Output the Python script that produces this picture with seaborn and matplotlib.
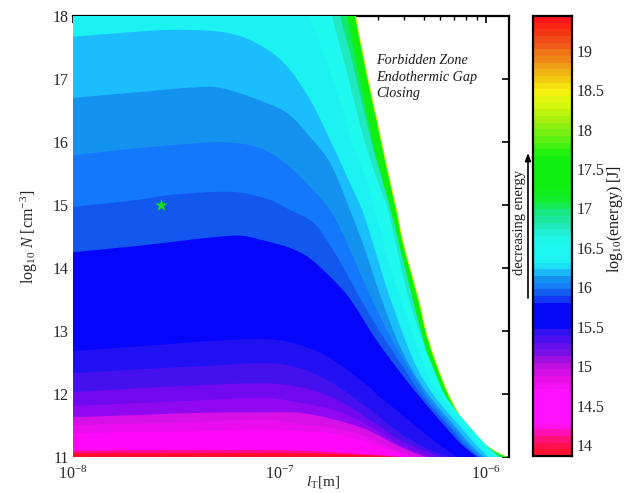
import numpy as np
import pandas as pd
import seaborn as sns
import matplotlib.pyplot as plt
from matplotlib.colors import LinearSegmentedColormap
from matplotlib.patches import PathPatch
from matplotlib.path import Path
from matplotlib.ticker import LogLocator, NullFormatter

# contour boundaries: log10(l_T), log10(N)
edge_x = [-6.630, -6.576, -6.523, -6.475, -6.431, -6.402, -6.354, -6.320, -6.281, -6.189, -6.111, -6.029, -5.947, -5.893]
edge_y = [18, 17.10, 16.30, 15.56, 14.92, 14.44, 13.86, 13.44, 12.90, 12.06, 11.59, 11.27, 11.08, 11]
green_x = [-6.635, -6.581, -6.528, -6.480, -6.436, -6.407, -6.359, -6.325, -6.286, -6.194, -6.116, -6.034, -5.952, -5.898]
green_y = [18, 17.10, 16.30, 15.56, 14.92, 14.44, 13.86, 13.44, 12.90, 12.06, 11.59, 11.27, 11.08, 11]
teal_x = [-6.673, -6.610, -6.552, -6.499, -6.465, -6.416, -6.358, -6.320, -6.223, -6.136, -6.053, -5.971, -5.918]
teal_y = [18, 16.98, 16.03, 15.24, 14.84, 14.21, 13.49, 12.94, 12.14, 11.62, 11.30, 11.10, 11]
mint_x = [-6.707, -6.644, -6.576, -6.523, -6.475, -6.426, -6.378, -6.329, -6.252, -6.184, -6.058, -5.990, -5.932]
mint_y = [18, 17.22, 16.27, 15.63, 15.08, 14.44, 13.81, 13.17, 12.30, 11.90, 11.40, 11.16, 11]
bright_x = [-6.746, -6.683, -6.610, -6.552, -6.508, -6.475, -6.431, -6.378, -6.310, -6.242, -6.194, -6.068, -6.000, -5.942]
bright_y = [18, 17.22, 16.27, 15.63, 15.24, 14.92, 14.29, 13.57, 12.86, 12.30, 11.95, 11.43, 11.19, 11]
cyan_x = [-6.852, -6.794, -6.726, -6.659, -6.600, -6.567, -6.538, -6.475, -6.416, -6.344, -6.281, -6.213, -6.087, -6.024, -5.966]
cyan_y = [18, 17.46, 16.83, 16.11, 15.56, 15.24, 14.92, 14.13, 13.49, 12.86, 12.30, 11.95, 11.43, 11.19, 11]
sky_x = [-8, -7.772, -7.530, -7.288, -7.143, -6.983, -6.852, -6.755, -6.644, -6.600, -6.538, -6.489, -6.392, -6.329, -6.247, -6.111, -6.048, -5.990]
sky_y = [17.67, 17.73, 17.78, 17.75, 17.62, 17.27, 16.67, 16.03, 15.24, 14.92, 14.29, 13.76, 12.86, 12.38, 11.95, 11.43, 11.19, 11]
azure_x = [-8, -7.690, -7.400, -7.288, -7.128, -6.964, -6.852, -6.755, -6.659, -6.586, -6.513, -6.431, -6.358, -6.271, -6.136, -6.073, -6.010]
azure_y = [16.70, 16.79, 16.87, 16.86, 16.70, 16.46, 16.08, 15.67, 14.92, 14.29, 13.57, 12.86, 12.38, 11.95, 11.43, 11.19, 11]
blue1_x = [-8, -7.690, -7.400, -7.288, -7.143, -7.046, -6.949, -6.852, -6.755, -6.659, -6.562, -6.455, -6.368, -6.286, -6.150, -6.087, -6.024]
blue1_y = [15.79, 15.90, 15.98, 16.00, 15.95, 15.83, 15.60, 15.29, 14.92, 14.29, 13.57, 12.86, 12.38, 11.95, 11.43, 11.19, 11]
blue2_x = [-8, -7.690, -7.530, -7.288, -7.177, -7.046, -6.949, -6.852, -6.804, -6.707, -6.610, -6.489, -6.392, -6.305, -6.165, -6.102, -6.034]
blue2_y = [14.97, 15.08, 15.16, 15.21, 15.19, 15.08, 14.92, 14.76, 14.60, 14.10, 13.52, 12.86, 12.38, 11.95, 11.43, 11.19, 11]
blue3_x = [-8, -7.690, -7.530, -7.288, -7.177, -7.046, -6.949, -6.852, -6.707, -6.644, -6.538, -6.431, -6.320, -6.184, -6.116, -6.044]
blue3_y = [14.25, 14.35, 14.41, 14.50, 14.51, 14.41, 14.32, 14.15, 13.70, 13.44, 12.89, 12.41, 11.95, 11.43, 11.19, 11]
violet1_x = [-8, -7.579, -7.385, -7.061, -6.901, -6.741, -6.576, -6.513, -6.416, -6.320, -6.223, -6.140]
violet1_y = [12.68, 12.78, 12.83, 12.87, 12.78, 12.54, 12.14, 11.95, 11.70, 11.43, 11.19, 11]
violet2_x = [-8, -7.579, -7.385, -7.061, -6.901, -6.741, -6.576, -6.416, -6.271, -6.174]
violet2_y = [12.33, 12.41, 12.44, 12.49, 12.41, 12.17, 11.79, 11.38, 11.11, 11]
violet3_x = [-8, -7.579, -7.385, -7.061, -6.901, -6.741, -6.576, -6.416, -6.223]
violet3_y = [12.03, 12.11, 12.14, 12.17, 12.11, 11.94, 11.62, 11.27, 11]
violet4_x = [-8, -7.579, -7.385, -7.061, -6.901, -6.741, -6.576, -6.416, -6.271]
violet4_y = [11.81, 11.87, 11.90, 11.94, 11.86, 11.75, 11.51, 11.19, 11]
pink1_x = [-8, -7.579, -7.385, -7.061, -6.901, -6.741, -6.576, -6.416, -6.295]
pink1_y = [11.63, 11.68, 11.70, 11.71, 11.70, 11.60, 11.43, 11.16, 11]
pink2_x = [-8, -7.579, -7.385, -7.061, -6.901, -6.741, -6.576, -6.416, -6.344]
pink2_y = [11.51, 11.54, 11.56, 11.59, 11.52, 11.46, 11.32, 11.08, 11]
pink3_x = [-8, -7.579, -7.385, -7.061, -6.901, -6.741, -6.576, -6.416, -6.368]
pink3_y = [11.38, 11.40, 11.41, 11.44, 11.41, 11.37, 11.24, 11.05, 11]
rose_x = [-8, -7.385, -6.901, -6.465, -6.416]
rose_y = [11.10, 11.11, 11.10, 11.02, 11]
red_x = [-8, -7.385, -6.901, -6.513, -6.441]
red_y = [11.06, 11.06, 11.06, 11.02, 11]

star_l = [2.67e-8]
star_n = [15]

bar_levels = [13.90, 13.98, 14.07, 14.15, 14.24, 14.32, 14.41, 14.49, 14.58, 14.66, 14.75, 14.83, 14.92, 15.00, 15.08, 15.17, 15.25, 15.34, 15.42, 15.51, 15.59, 15.68,
              15.76, 15.85, 15.93, 16.02, 16.10, 16.19, 16.27, 16.36, 16.44, 16.53, 16.61, 16.69, 16.78, 16.86, 16.95, 17.03, 17.12, 17.20, 17.29, 17.37, 17.46, 17.54,
              17.63, 17.71, 17.80, 17.88, 17.97, 18.05, 18.14, 18.22, 18.31, 18.39, 18.47, 18.56, 18.64, 18.73, 18.81, 18.90, 18.98, 19.07, 19.15, 19.24, 19.32, 19.41]
bar_ticks = [14, 14.5, 15, 15.5, 16, 16.5, 17, 17.5, 18, 18.5, 19]
bar_labels = ['14', '14.5', '15', '15.5', '16', '16.5', '17', '17.5', '18', '18.5', '19']
n_ticks = [11, 12, 13, 14, 15, 16, 17, 18]
l_ticks = [1e-8, 1e-7, 1e-6]
l_labels = ['10$^{-8}$', '10$^{-7}$', '10$^{-6}$']

# outermost first, inner bands get painted over
bands = [(edge_x, edge_y, '#d8f010'), (green_x, green_y, '#10f010'), (teal_x, teal_y, '#10e868'),
         (mint_x, mint_y, '#20e8c0'), (bright_x, bright_y, '#1ffaf0'), (cyan_x, cyan_y, '#1cf2f2'),
         (sky_x, sky_y, '#1abefc'), (azure_x, azure_y, '#1492f0'), (blue1_x, blue1_y, '#1478fc'),
         (blue2_x, blue2_y, '#1258ee'), (blue3_x, blue3_y, '#0505fb'), (violet1_x, violet1_y, '#2010f2'),
         (violet2_x, violet2_y, '#4510ee'), (violet3_x, violet3_y, '#7008f0'), (violet4_x, violet4_y, '#9008f0'),
         (pink1_x, pink1_y, '#d810e8'), (pink2_x, pink2_y, '#ec0cf0'), (pink3_x, pink3_y, '#ff08f8'),
         (rose_x, rose_y, '#ff0890'), (red_x, red_y, '#ff0c28')]

bar_colors = [(13.86, '#ff1028'), (13.98, '#ff1050'), (14.10, '#ff1090'), (14.21, '#ff10e8'), (14.30, '#ff10ff'), (14.65, '#ff10ff'),
              (14.83, '#e810e8'), (15.00, '#c010e0'), (15.10, '#8c10e0'), (15.25, '#6010ee'), (15.42, '#3010f0'), (15.50, '#0808f8'),
              (15.78, '#0808f8'), (15.90, '#1258ee'), (16.00, '#1478fc'), (16.10, '#1492f0'), (16.19, '#1abefc'), (16.31, '#1cf2f0'),
              (16.60, '#1ff8f0'), (16.75, '#20e8c0'), (16.95, '#18e880'), (17.10, '#10ec30'), (17.25, '#10f010'), (17.65, '#10f010'),
              (17.90, '#60f010'), (18.15, '#a8f010'), (18.35, '#dcf810'), (18.50, '#f8f010'), (18.70, '#f0c010'), (18.90, '#f08a18'),
              (19.15, '#f04c18'), (19.30, '#f82810'), (19.44, '#ff1020')]
bar_lo = 13.86
bar_hi = 19.44


def band_patch(xs, ys, col):
    # closed shape under one boundary, boundary itself drawn as a bezier through the read points
    p = np.column_stack([xs, ys])
    q = p * [206.5, 63]  # roughly screen proportions, so tangents look right
    seg = np.hypot(*np.diff(q, axis=0).T)
    tan = np.zeros_like(p)
    tan[1:-1] = (q[2:] - q[:-2]) / (seg[1:] + seg[:-1])[:, None]
    tan[0] = (q[1] - q[0]) / seg[0]
    tan[-1] = (q[-1] - q[-2]) / seg[-1]
    top = 18 if xs[0] > -8 else ys[0]
    verts = [(-8, 11), (-8, top), tuple(p[0])]
    codes = [Path.MOVETO, Path.LINETO, Path.LINETO]
    for i in range(len(p) - 1):
        c1 = (q[i] + tan[i] * seg[i] / 3) / [206.5, 63]
        c2 = (q[i + 1] - tan[i + 1] * seg[i] / 3) / [206.5, 63]
        verts += [tuple(c1), tuple(c2), tuple(p[i + 1])]
        codes += [Path.CURVE4] * 3
    verts += [(xs[-1], 11), (-8, 11)]
    codes += [Path.LINETO, Path.CLOSEPOLY]
    v = np.array(verts)
    v[:, 1] = np.minimum(v[:, 1], 18)
    v[:, 0] = 10.0 ** v[:, 0]
    return PathPatch(Path(v, codes), facecolor=col, lw=0, zorder=3)


sns.set_style('ticks')
plt.rcParams['font.family'] = ['Liberation Serif']
plt.rcParams['mathtext.fontset'] = 'custom'
plt.rcParams['mathtext.rm'] = 'Liberation Serif'
plt.rcParams['mathtext.it'] = 'Liberation Serif:italic'
plt.rcParams['text.color'] = '#1a1a1a'

fig = plt.figure(figsize=(6.28, 4.93), dpi=100)
ax = fig.add_axes([73 / 628, 36 / 493, 436 / 628, 441 / 493])
cax = fig.add_axes([533 / 628, 37 / 493, 39 / 628, 440 / 493])

ax.set_xscale('log')
ax.set_xlim(1e-8, 10 ** -5.889)
ax.set_ylim(11, 18)
for xs, ys, col in bands:
    ax.add_patch(band_patch(xs, ys, col))

sns.scatterplot(x=star_l, y=star_n, marker='*', color='#18e018', s=90, linewidth=0, ax=ax, zorder=5, legend=False)

ax.set_xticks(l_ticks)
ax.set_xticklabels(l_labels)
ax.xaxis.set_minor_locator(LogLocator(base=10, subs=(2, 3, 4, 5, 6, 7, 8, 9), numticks=12))
ax.xaxis.set_minor_formatter(NullFormatter())
ax.set_yticks(n_ticks)
ax.tick_params(axis='both', which='major', direction='in', top=True, right=True, left=False, bottom=False, length=5, width=1.2, labelsize=11.5, color='black', pad=3)
ax.tick_params(axis='x', which='minor', direction='in', top=True, bottom=False, length=3, width=1, color='black')
ax.tick_params(axis='x', which='major', pad=6)
ax.spines['left'].set_visible(False)
ax.spines['bottom'].set_visible(False)
for s in ['top', 'right']:
    ax.spines[s].set_linewidth(1.6)
    ax.spines[s].set_color('black')
ax.set_ylabel(r'log$_{10}$ $\mathit{N}$ [cm$^{-3}$]', fontsize=11.5, labelpad=9)
ax.set_xlabel(r'$\mathit{l}_{\mathrm{T}}$[m]', fontsize=11)
ax.xaxis.set_label_coords(0.573, -0.038)

ax.text(0.695, 0.898, 'Forbidden Zone', transform=ax.transAxes, style='italic', fontsize=10.2, va='center', zorder=6)
ax.text(0.695, 0.861, 'Endothermic Gap', transform=ax.transAxes, style='italic', fontsize=10.2, va='center', zorder=6)
ax.text(0.695, 0.824, 'Closing', transform=ax.transAxes, style='italic', fontsize=10.2, va='center', zorder=6)

# colorbar as a one column heatmap, top row = highest energy
cols = [c for v, c in bar_colors]
pos = [(v - bar_lo) / (bar_hi - bar_lo) for v, c in bar_colors]
cmap = LinearSegmentedColormap.from_list('energy', list(zip(pos, cols)))
bar_df = pd.DataFrame({'energy': bar_levels[::-1]})
sns.heatmap(bar_df, ax=cax, cmap=cmap, vmin=bar_lo, vmax=bar_hi, cbar=False, xticklabels=False, yticklabels=False)
tick_pos = [(bar_hi - v) / (bar_hi - bar_lo) * len(bar_levels) for v in bar_ticks]
cax.set_yticks(tick_pos)
cax.set_yticklabels(bar_labels, rotation=0, fontsize=11.5)
cax.yaxis.tick_right()
cax.tick_params(axis='y', left=True, right=True, direction='in', length=5, width=1.2, color='black', pad=3)
for s in cax.spines.values():
    s.set_visible(True)
    s.set_linewidth(1.6)
    s.set_color('black')

fig.text(615 / 628, 1 - 219 / 493, r'log$_{10}$(energy) [J]', rotation=90, fontsize=11.5, ha='center', va='center')
fig.text(519 / 628, 1 - 222 / 493, 'decreasing energy', rotation=90, fontsize=10.5, ha='center', va='center')
fig.add_artist(plt.Annotation('', xy=(528 / 628, 1 - 153 / 493), xytext=(528 / 628, 1 - 298 / 493), xycoords='figure fraction', textcoords='figure fraction',
                              arrowprops=dict(arrowstyle='-|>,head_width=0.17,head_length=0.45', color='black', lw=1.2, shrinkA=0, shrinkB=0)))

fig.savefig('out.png', dpi=100)
